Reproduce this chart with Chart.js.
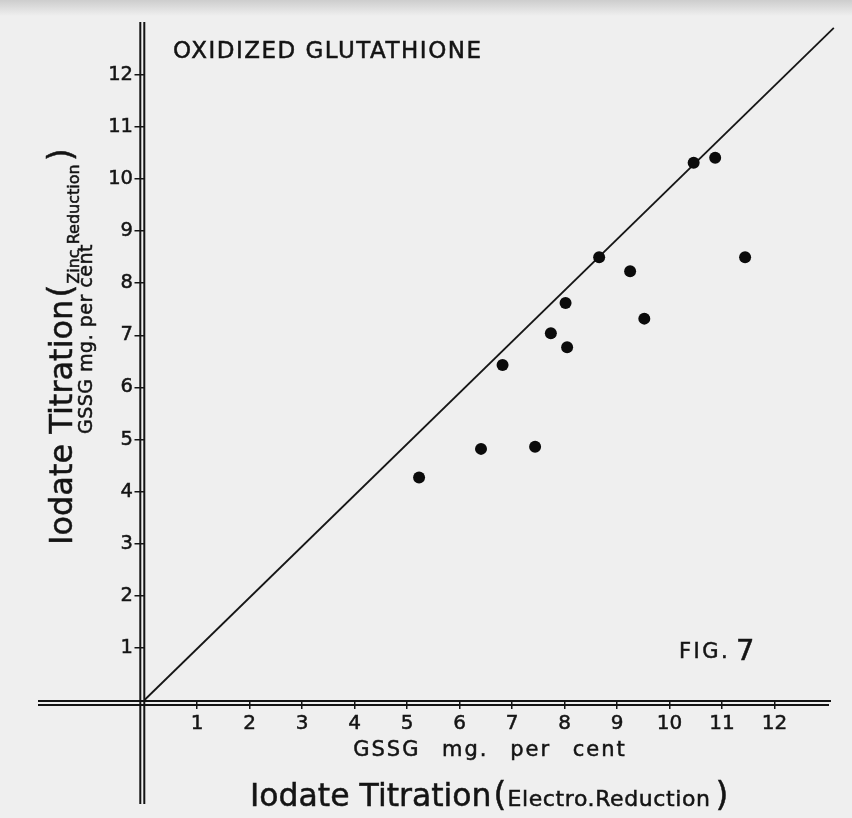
<!DOCTYPE html>
<html>
<head>
<meta charset="utf-8">
<title>Oxidized glutathione - Fig. 7</title>
<script src="https://cdn.jsdelivr.net/npm/chart.js@4.4.1/dist/chart.umd.min.js"></script>
<style>
  html, body { margin: 0; padding: 0; background: #efefef; }
  #wrap { width: 852px; height: 818px; position: relative; }
</style>
</head>
<body>
<div id="wrap"><canvas id="fig7"></canvas></div>
<script>
// Values (GSSG mg. per cent)
const electroReduction = [10.46, 10.87, 8.66, 9.25, 11.44, 8.02, 9.52, 7.74, 8.05, 6.82, 5.23, 6.41, 7.44];
const zincReduction    = [10.31, 10.41, 8.50, 8.23, 8.50, 7.62, 7.32, 7.04, 6.77, 6.43, 4.27, 4.82, 4.86];

// the 45 degree reference line
const equalityX = [0, 13.13];
const equalityY = [0, 12.90];

const xTickLabels = [1, 2, 3, 4, 5, 6, 7, 8, 9, 10, 11, 12];
const yTickLabels = [1, 2, 3, 4, 5, 6, 7, 8, 9, 10, 11, 12];

const FONT = 'DejaVu Sans';
const INK = '#141414';

// draws a piece of text, optionally with extra letter / word spacing
function drawText(ctx, text, x, y, size, opts = {}) {
    ctx.save();
    ctx.font = size + 'px "' + FONT + '"';
    ctx.fillStyle = INK;
    ctx.strokeStyle = INK;
    ctx.lineWidth = 0.5;
    ctx.textAlign = opts.align || 'left';
    ctx.textBaseline = 'alphabetic';
    if ('letterSpacing' in ctx) ctx.letterSpacing = (opts.letter || 0) + 'px';
    if ('wordSpacing' in ctx) ctx.wordSpacing = (opts.word || 0) + 'px';
    ctx.translate(x, y);
    if (opts.rotate) ctx.rotate(opts.rotate);
    ctx.fillText(text, 0, 0);
    ctx.strokeText(text, 0, 0);
    const w = ctx.measureText(text).width;
    ctx.restore();
    return w;
}

const figurePlugin = {
    id: 'figurePlugin',
    beforeDraw(chart) {
        const ctx = chart.ctx;
        ctx.save();
        ctx.fillStyle = '#efefef';
        ctx.fillRect(0, 0, chart.width, chart.height);
        // greyish strip along the top of the scan
        const g = ctx.createLinearGradient(0, 0, 0, 16);
        g.addColorStop(0, '#cdcdcd');
        g.addColorStop(1, '#efefef');
        ctx.fillStyle = g;
        ctx.fillRect(0, 0, chart.width, 16);
        ctx.restore();
    },
    afterDraw(chart) {
        const ctx = chart.ctx;
        const x0 = chart.scales.x.getPixelForValue(0);
        const y0 = chart.scales.y.getPixelForValue(0);

        // double axis lines
        ctx.save();
        ctx.strokeStyle = INK;
        ctx.lineWidth = 2;
        ctx.beginPath();
        ctx.moveTo(x0 - 4.2, 22); ctx.lineTo(x0 - 4.2, 804);
        ctx.moveTo(x0 - 0.2, 22); ctx.lineTo(x0 - 0.2, 804);
        ctx.moveTo(38, y0 + 1); ctx.lineTo(831, y0 + 1);
        ctx.moveTo(38, y0 + 5); ctx.lineTo(829, y0 + 5);
        ctx.stroke();
        ctx.restore();

        // title and figure number
        drawText(ctx, 'OXIDIZED GLUTATHIONE', 173, 58, 23, {letter: 1.5});
        drawText(ctx, 'FIG.', 679, 658, 21, {letter: 2.5});
        drawText(ctx, '7', 736, 660, 29);

        // x axis titles
        drawText(ctx, 'GSSG mg. per cent', 490, 756, 21, {align: 'center', letter: 2, word: 13});
        let x = 250;
        x += drawText(ctx, 'Iodate Titration', x, 806, 31.5) + 2;
        x += drawText(ctx, '(', x, 806, 33) + 1;
        x += drawText(ctx, 'Electro.Reduction', x, 806, 22, {letter: 0.6}) + 5;
        drawText(ctx, ')', x, 806, 33);

        // y axis titles (rotated)
        const up = -Math.PI / 2;
        drawText(ctx, 'GSSG mg. per cent', 92, 339, 19, {align: 'center', rotate: up, letter: 0.5});
        let y = 545;
        y -= drawText(ctx, 'Iodate Titration', 72, y, 32, {rotate: up}) + 2;
        y -= drawText(ctx, '(', 72, y, 33, {rotate: up}) + 1;
        y -= drawText(ctx, 'Zinc Reduction', 79, y, 16, {rotate: up}) + 3;
        drawText(ctx, ')', 72, y, 33, {rotate: up});
    }
};

const ctx = document.getElementById('fig7').getContext('2d');
const fig7 = new Chart(ctx, {
    type: 'scatter',
    data: {
        datasets: [
            {
                label: 'GSSG',
                data: electroReduction.map((v, i) => ({x: v, y: zincReduction[i]})),
                pointRadius: 6,
                pointHoverRadius: 6,
                pointBackgroundColor: '#0b0b0b',
                pointBorderWidth: 0
            },
            {
                label: 'equality',
                data: equalityX.map((v, i) => ({x: v, y: equalityY[i]})),
                showLine: true,
                pointRadius: 0,
                borderColor: '#161616',
                borderWidth: 1.8,
                clip: false
            }
        ]
    },
    options: {
        responsive: true,
        maintainAspectRatio: false,
        animation: false,
        devicePixelRatio: 1,
        layout: { padding: { left: 0, top: 22.7, right: 14.5, bottom: 0 } },
        plugins: {
            legend: { display: false },
            tooltip: { enabled: false }
        },
        scales: {
            x: {
                type: 'linear',
                position: 'bottom',
                min: 0,
                max: 13.2,
                afterFit: s => { s.height = 118; },
                border: { display: false },
                grid: { drawOnChartArea: false, drawTicks: true, tickLength: 9, color: INK, lineWidth: 1.5 },
                ticks: {
                    stepSize: 1,
                    includeBounds: false,
                    autoSkip: false,
                    maxRotation: 0,
                    padding: 3,
                    color: INK,
                    textStrokeColor: INK,
                    textStrokeWidth: 0.5,
                    font: { family: FONT, size: 20 },
                    callback: v => xTickLabels.includes(v) ? String(v) : null
                }
            },
            y: {
                type: 'linear',
                position: 'left',
                min: 0,
                max: 13,
                afterFit: s => { s.width = 144.5; },
                border: { display: false },
                grid: { drawOnChartArea: false, drawTicks: true, tickLength: 10, color: INK, lineWidth: 1.5 },
                ticks: {
                    stepSize: 1,
                    includeBounds: false,
                    autoSkip: false,
                    padding: 1.5,
                    color: INK,
                    textStrokeColor: INK,
                    textStrokeWidth: 0.5,
                    font: { family: FONT, size: 19.5 },
                    callback: v => yTickLabels.includes(v) ? String(v) : null
                }
            }
        }
    },
    plugins: [figurePlugin]
});
</script>
</body>
</html>
